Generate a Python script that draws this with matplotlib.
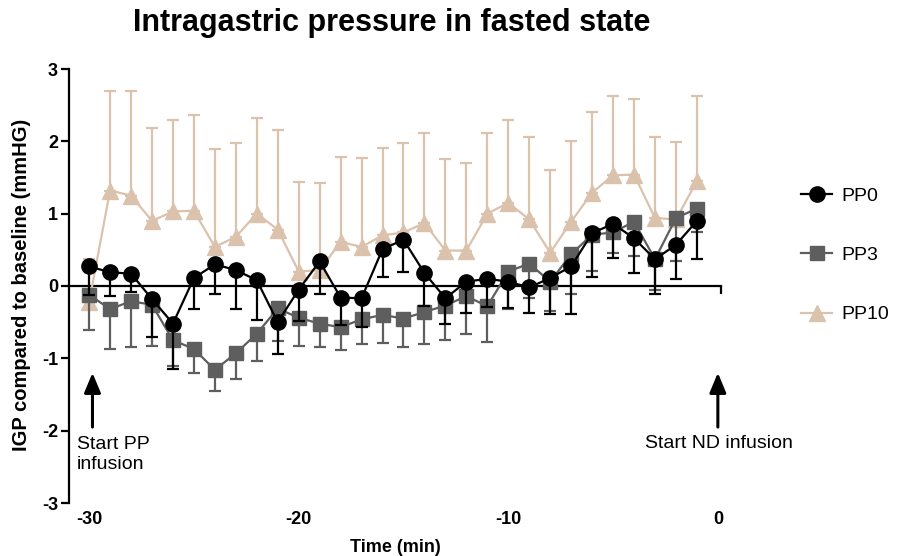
import matplotlib
matplotlib.use('Agg')
import matplotlib.pyplot as plt

plt.rcParams['font.family'] = ['Liberation Sans', 'DejaVu Sans']

# ---------------- data ----------------
time = list(range(-30, 0))

pp0 = [0.27, 0.19, 0.17, -0.18, -0.52, 0.11, 0.30, 0.22, 0.08, -0.50,
       -0.05, 0.34, -0.16, -0.17, 0.51, 0.64, 0.18, -0.17, 0.06, 0.10,
       0.06, -0.02, 0.11, 0.27, 0.73, 0.86, 0.66, 0.37, 0.57, 0.90]
pp0_err = [0.39, 0.33, 0.25, 0.52, 0.63, 0.43, 0.41, 0.54, 0.55, 0.44,
           0.44, 0.45, 0.38, 0.40, 0.38, 0.44, 0.45, 0.36, 0.44, 0.39,
           0.36, 0.35, 0.50, 0.66, 0.60, 0.47, 0.48, 0.48, 0.48, 0.53]

pp3 = [-0.12, -0.32, -0.21, -0.26, -0.75, -0.87, -1.16, -0.93, -0.66, -0.31,
       -0.44, -0.52, -0.57, -0.46, -0.40, -0.45, -0.36, -0.27, -0.14, -0.28,
       0.20, 0.31, 0.06, 0.44, 0.71, 0.74, 0.89, 0.37, 0.94, 1.07]
pp3_err = [0.49, 0.55, 0.63, 0.57, 0.35, 0.33, 0.29, 0.35, 0.38, 0.45,
           0.39, 0.33, 0.31, 0.34, 0.39, 0.40, 0.44, 0.47, 0.53, 0.49,
           0.52, 0.48, 0.41, 0.55, 0.50, 0.29, 0.48, 0.42, 0.60, 0.32]

pp10 = [-0.22, 1.32, 1.25, 0.90, 1.03, 1.04, 0.54, 0.68, 1.00, 0.78,
        0.20, 0.22, 0.61, 0.54, 0.70, 0.74, 0.87, 0.49, 0.49, 1.00,
        1.15, 0.92, 0.46, 0.89, 1.29, 1.53, 1.54, 0.94, 0.92, 1.45]
pp10_err = [0.60, 1.38, 1.44, 1.29, 1.27, 1.32, 1.35, 1.30, 1.32, 1.37,
            1.24, 1.20, 1.17, 1.23, 1.21, 1.24, 1.24, 1.26, 1.21, 1.11,
            1.15, 1.14, 1.14, 1.11, 1.12, 1.10, 1.05, 1.12, 1.07, 1.17]

series_names = ['PP0', 'PP3', 'PP10']
x_ticks = [-30, -20, -10, 0]
y_ticks = [-3, -2, -1, 0, 1, 2, 3]

# ---------------- style ----------------
c0, c3, c10 = '#000000', '#5E5E5E', '#DBC2AC'
LW = 1.6

fig = plt.figure(figsize=(9.14, 5.56), dpi=100)
ax = fig.add_axes([69 / 914, 53 / 556, 652 / 914, 434 / 556])
xmax = 0.15
ax.set_xlim(-30.96, xmax)
ax.set_ylim(-3, 3)

zeros = [0] * len(time)

# PP10 (upward error bars)
ax.errorbar(time, pp10, yerr=[zeros, pp10_err], fmt='none', ecolor=c10,
            elinewidth=LW, capsize=4.5, capthick=LW, zorder=2)
h10, = ax.plot(time, pp10, '-^', color=c10, lw=LW, ms=11.5, zorder=3,
               label='PP10')
# PP3 (downward)
ax.errorbar(time, pp3, yerr=[pp3_err, zeros], fmt='none', ecolor=c3,
            elinewidth=LW, capsize=4.5, capthick=LW, zorder=4)
h3, = ax.plot(time, pp3, '-s', color=c3, lw=LW, ms=10, zorder=5,
              label='PP3')
# PP0 (downward)
ax.errorbar(time, pp0, yerr=[pp0_err, zeros], fmt='none', ecolor=c0,
            elinewidth=LW, capsize=4.5, capthick=LW, zorder=6)
h0, = ax.plot(time, pp0, '-o', color=c0, lw=LW, ms=11, zorder=7,
              label='PP0')

# axes styling
for s in ['top', 'right']:
    ax.spines[s].set_visible(False)
ax.spines['left'].set_linewidth(LW)
ax.spines['bottom'].set_position(('data', 0))
ax.spines['bottom'].set_linewidth(LW)
ax.set_xticks([xmax])
ax.tick_params(axis='x', length=6, width=LW, labelbottom=False, direction='out')
ax.set_yticks(y_ticks)
ax.set_yticklabels([str(v) for v in y_ticks], fontsize=13, fontweight='bold')
ax.tick_params(axis='y', length=6, width=LW, pad=2)

sec = ax.secondary_xaxis(0.0)
sec.set_xticks(x_ticks)
sec.set_xticklabels([str(v) for v in x_ticks], fontsize=13, fontweight='bold')
sec.tick_params(length=0, pad=6)
sec.spines['bottom'].set_visible(False)

# labels
fig.text(392 / 914, 1 - 23 / 556, 'Intragastric pressure in fasted state',
         ha='center', va='center', fontsize=22, fontweight='bold')
fig.text(22 / 914, 1 - 285 / 556, 'IGP compared to baseline (mmHG)', rotation=90,
         ha='center', va='center', fontsize=14.5, fontweight='bold')
fig.text(395 / 914, 9 / 556, 'Time (min)', ha='center', va='center',
         fontsize=13, fontweight='bold')

# annotations
arrow_style = dict(arrowstyle='-|>,head_length=0.6,head_width=0.25',
                   color='black', lw=2.2, mutation_scale=20, shrinkA=0, shrinkB=0)
ax.annotate('', xy=(-29.84, -1.2), xytext=(-29.84, -1.95),
            arrowprops=arrow_style, annotation_clip=False)
ax.annotate('', xy=(0.0, -1.2), xytext=(0.0, -1.95),
            arrowprops=arrow_style, annotation_clip=False)
ax.text(-30.59, -2.33, 'Start PP\ninfusion', ha='left', va='center',
        fontsize=14, linespacing=1.2)
ax.text(0.05, -2.18, 'Start ND infusion', ha='center', va='center',
        fontsize=14, clip_on=False)

# legend
fig.legend(handles=[h0, h3, h10], labels=series_names, loc='upper left',
           bbox_to_anchor=(801 / 914, 1 - 187 / 556), frameon=False,
           fontsize=14, handlelength=1.6, handletextpad=0.5,
           labelspacing=2.15, borderpad=0, borderaxespad=0)

fig.savefig('out.png', dpi=100)
